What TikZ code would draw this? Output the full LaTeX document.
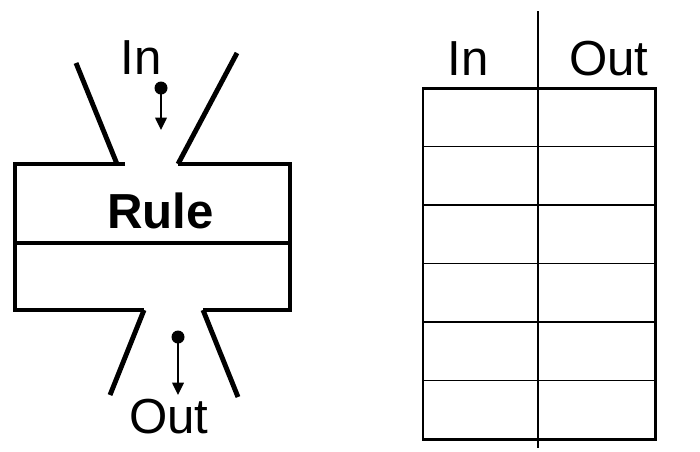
\documentclass[tikz,border=0pt]{standalone}
\usepackage{fontspec}
\setmainfont{Liberation Sans}
\usepackage{tikz}
\usetikzlibrary{arrows.meta}

\begin{document}
\begin{tikzpicture}[x=0.02cm,y=-0.02cm,>={Triangle[length=7pt,width=6.5pt]},
	wall/.style={line width=2.8pt},
	flow/.style={line width=1.2pt,->},
	lbl/.style={anchor=base,inner sep=0pt,font=\fontsize{28}{30}\selectfont}]
			\def\rowh{58.5}
			\useasboundingbox (0,0) rectangle (700,451);
			
			% 左边：规则框和漏斗
			\draw[wall] (76,63) -- (117,164);
			\draw[wall] (237,53) -- (178,164);
			\draw[wall] (125,164) -- (15,164) -- (15,310) -- (144,310);
			\draw[wall] (178,164) -- (290,164) -- (290,310) -- (203,310);
			\draw[wall] (15,243) -- (290,243);
			\draw[wall] (144,310) -- (110,395);
			\draw[wall] (203,310) -- (238,397);
			
			\node[lbl] (inL) at (141.5,74) {In};
			\node[lbl,font=\fontsize{28}{30}\selectfont\bfseries] (rule) at (160.5,228) {Rule};
			\node[lbl] (outL) at (169,433) {Out};
			
			\coordinate (inDot) at (161,88);
			\coordinate (inTip) at (161,130);
			\coordinate (outDot) at (178,337);
			\coordinate (outTip) at (178,395);
			\fill (inDot) circle (3.7pt);
			\fill (outDot) circle (3.7pt);
			\draw[flow] (inDot) -- (inTip);
			\draw[flow] (outDot) -- (outTip);
			
			% 右边：表格
			\foreach \i in {1,...,5}
			\draw[line width=0.75pt] (423,{88+\i*\rowh}) -- (655,{88+\i*\rowh});
			\draw[line width=1.7pt] (423,88) rectangle (655,439);
			\draw[line width=1.7pt] (538,11) -- (538,448);
			
			\node[lbl] (inH) at (468,75) {In};
			\node[lbl] (outH) at (609,75) {Out};
\end{tikzpicture}
\end{document}
